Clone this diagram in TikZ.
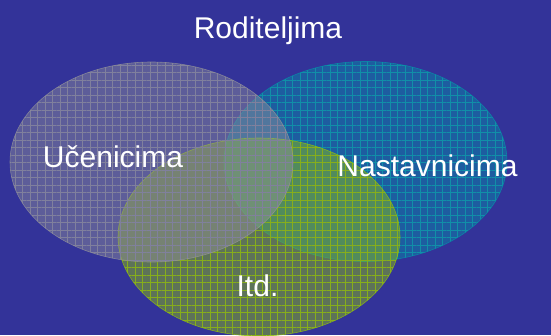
\documentclass[tikz,border=0pt]{standalone}
\usepackage{fontspec}
\setmainfont{Liberation Sans}
\usepackage{xcolor}
\usetikzlibrary{patterns.meta}

\definecolor{bgblue}{HTML}{333399}
\definecolor{greyset}{HTML}{999999}
\definecolor{cyanset}{HTML}{0099AA}
\definecolor{greenset}{HTML}{99CC00}
\definecolor{greygrid}{HTML}{6E6EA0}
\definecolor{cyangrid}{HTML}{1F88A8}
\definecolor{greengrid}{HTML}{7A9A30}

\tikzset{
  setfill/.style={fill=#1, fill opacity=0.42, draw=#1, draw opacity=0.7, line width=0.6pt},
  setgrid/.style={pattern={Hatch[distance=7.5pt, line width=0.4pt]}, pattern color=#1},
  label/.style={text=white, font=\fontsize{30}{36}\selectfont, anchor=base, inner sep=0pt}
}

\begin{document}
\begin{tikzpicture}[x=1pt, y=-1pt]
  \useasboundingbox (0,0) rectangle (551,335);
  \clip (0,0) rectangle (551,335);
  \fill[bgblue] (0,0) rectangle (551,335);

  % teachers
  \path[setgrid=cyangrid] (365.5,161.5) ellipse [x radius=141.5, y radius=100];
  \path[setfill=cyanset] (365.5,161.5) ellipse [x radius=141.5, y radius=100];

  % etc
  \path[setgrid=greengrid] (259,237) ellipse [x radius=141, y radius=99];
  \path[setfill=greenset] (259,237) ellipse [x radius=141, y radius=99];

  % pupils
  \path[setgrid=greygrid] (151.5,162) ellipse [x radius=141.5, y radius=100];
  \path[setfill=greyset] (151.5,162) ellipse [x radius=141.5, y radius=100];

  \node (rod) at (268,38) [label] {Roditeljima};
  \node (uc) at (113,167) [label] {Učenicima};
  \node (nas) at (427.5,176) [label] {Nastavnicima};
  \node (itd) at (257.5,296) [label] {Itd.};
\end{tikzpicture}
\end{document}
